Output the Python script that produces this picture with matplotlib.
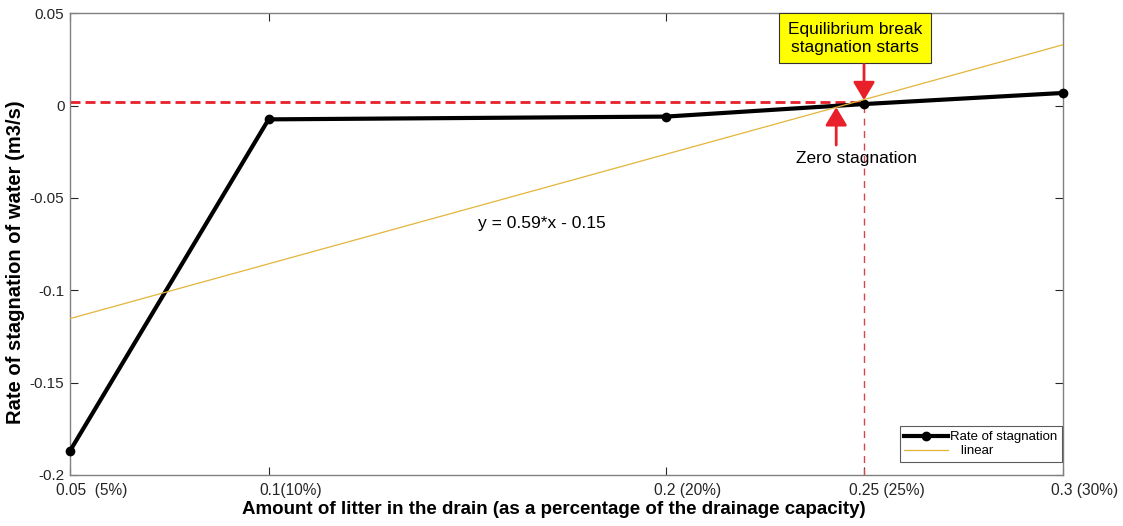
import matplotlib.pyplot as plt
import matplotlib.transforms as mtransforms
import numpy as np

plt.rcParams['font.family'] = ['Liberation Sans', 'DejaVu Sans']

# data
litter = [0.05, 0.1, 0.2, 0.25, 0.3]
stagnation = [-0.187, -0.0075, -0.006, 0.0008, 0.0068]
tick_labels = ["0.05  (5%)", "0.1(10%)", "0.2 (20%)", "0.25 (25%)", "0.3 (30%)"]
y_ticks = [-0.2, -0.15, -0.1, -0.05, 0, 0.05]
y_tick_labels = ["-0.2", "-0.15", "-0.1", "-0.05", "0", "0.05"]

# linear fit line (as shown)
fit_slope = 0.593
fit_intercept = -0.145
fit_x = [0.05, 0.3]

# reference lines
zero_level = 0.002
break_x = 0.25

fig = plt.figure(figsize=(11.23, 5.26), dpi=100)
ax = fig.add_axes([0.0623, 0.097, 0.8843, 0.878])

fit_y = [fit_slope * x + fit_intercept for x in fit_x]

ax.plot([0.05, break_x], [zero_level, zero_level], "--", color="#e8202a", lw=2, dashes=(3.6, 1.8), zorder=2)
ax.plot([break_x, break_x], [-0.2, zero_level], "--", color="#d9434a", lw=1, dashes=(5, 4), zorder=2)
ax.plot(litter, stagnation, "-o", color="black", lw=3, ms=6, label="Rate of stagnation",
        zorder=3, clip_on=False)
ax.plot(fit_x, fit_y, color="#e3b53a", lw=0.9, label="   linear", zorder=4)

ax.set_xlim(0.05, 0.3)
ax.set_ylim(-0.2, 0.05)
ax.set_xticks(litter)
ax.set_xticklabels(tick_labels)
ax.set_yticks(y_ticks)
ax.set_yticklabels(y_tick_labels)
ax.tick_params(direction="in", length=6, labelsize=11, colors="#262626",
               top=True, right=True)
ax.tick_params(axis="x", labelsize=11.2, pad=6)
ax.tick_params(axis="y", pad=4)
for s in ax.spines.values():
    s.set_color("#808080")
    s.set_linewidth(1)

# x tick labels sit a little right of their ticks in the original
shift = mtransforms.ScaledTranslation(0.22, 0, fig.dpi_scale_trans)
for lab in ax.get_xticklabels():
    lab.set_transform(lab.get_transform() + shift)

ax.set_xlabel("Amount of litter in the drain (as a percentage of the drainage capacity)",
              fontsize=13.5, fontweight="bold")
ax.xaxis.set_label_coords(0.487, -0.056)
ax.set_ylabel("Rate of stagnation of water (m3/s)", fontsize=14.5, fontweight="bold")
ax.yaxis.set_label_coords(-0.045, 0.461)

# annotations
arrow = dict(arrowstyle="-|>,head_length=0.55,head_width=0.33", color="#e8202a", lw=2,
             mutation_scale=20, shrinkA=0, shrinkB=0)
ax.text(0.2476, 0.0365, "Equilibrium break\nstagnation starts", ha="center", va="center",
        fontsize=12.5, linespacing=1.25,
        bbox=dict(boxstyle="square,pad=0.5", fc="#ffff00", ec="#333333", lw=0.8))
ax.annotate("", xy=(0.2499, 0.0029), xytext=(0.2499, 0.0222), arrowprops=arrow)
ax.text(0.2481, -0.0285, "Zero stagnation", ha="center", va="center", fontsize=12.5)
ax.annotate("", xy=(0.2429, -0.0009), xytext=(0.2429, -0.0214), arrowprops=arrow)
ax.text(0.1688, -0.0636, "y = 0.59*x - 0.15", ha="center", va="center", fontsize=12.5)

leg = ax.legend(loc="lower right", fontsize=9.5, handlelength=3.3, handletextpad=0.15,
                borderpad=0.35, labelspacing=0.15, fancybox=False, edgecolor="#333333",
                borderaxespad=0, bbox_to_anchor=(0.9985, 0.028))
leg.get_frame().set_linewidth(0.8)

fig.savefig("out.png", dpi=100)
